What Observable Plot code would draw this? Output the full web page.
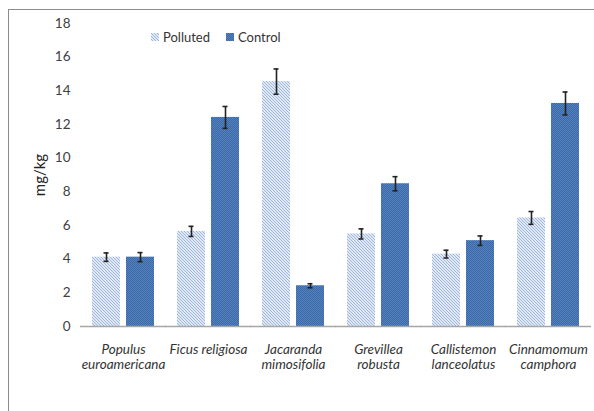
<!DOCTYPE html>
<html>
<head>
<meta charset="utf-8">
<script src="https://cdn.jsdelivr.net/npm/d3@7"></script>
<script src="https://cdn.jsdelivr.net/npm/@observablehq/plot@0.6"></script>
<style>
  body { margin: 0; background: #fff; }
  #wrap { position: relative; width: 594px; height: 411px; overflow: hidden; font-family: Lato, "Open Sans", sans-serif; }
  #frame { position: absolute; left: 8px; top: 9px; right: -10px; bottom: -10px; border-top: 1.5px solid #8c8c8c; border-left: 1.5px solid #8c8c8c; pointer-events: none; }
  #legend { position: absolute; left: 151px; top: 29px; display: flex; gap: 16px; font-size: 13px; color: #333; }
  #legend span { display: flex; align-items: center; gap: 4px; }
  #legend svg { width: 8px; height: 8px; }
</style>
</head>
<body>
<div id="wrap">
  <div id="chart"></div>
  <div id="frame"></div>
  <div id="legend"></div>
</div>
<script>
// Tree species and their axis labels
const species = ["Populus euroamericana", "Ficus religiosa", "Jacaranda mimosifolia", "Grevillea robusta", "Callistemon lanceolatus", "Cinnamomum camphora"];
const speciesLabels = ["Populus\neuroamericana", "Ficus religiosa", "Jacaranda\nmimosifolia", "Grevillea\nrobusta", "Callistemon\nlanceolatus", "Cinnamomum\ncamphora"];

// Concentrations (mg/kg) and their error margins
const series = ["Polluted", "Control"];
const polluted = [4.12, 5.65, 14.55, 5.5, 4.3, 6.45];
const pollutedErr = [0.25, 0.3, 0.75, 0.3, 0.23, 0.38];
const control = [4.12, 12.42, 2.42, 8.48, 5.1, 13.25];
const controlErr = [0.27, 0.65, 0.12, 0.42, 0.28, 0.68];
const yTicks = [0, 2, 4, 6, 8, 10, 12, 14, 16, 18];

const rows = species.flatMap((s, i) => [
  {species: s, series: "Polluted", value: polluted[i], err: pollutedErr[i]},
  {species: s, series: "Control", value: control[i], err: controlErr[i]}
]);

const fills = {Polluted: "url(#hatch-polluted)", Control: "url(#hatch-control)"};
const labelOf = new Map(species.map((s, i) => [s, speciesLabels[i]]));

const chart = Plot.plot({
  width: 594,
  height: 411,
  marginLeft: 79,
  marginRight: 2,
  marginTop: 23,
  marginBottom: 85,
  style: {fontFamily: "Lato, 'Open Sans', sans-serif", fontSize: "13px", color: "#404040", background: "transparent"},
  fx: {domain: species, paddingInner: 0.25, paddingOuter: 0.125, label: null, axis: null},
  x: {domain: series, paddingInner: 0.17, paddingOuter: 0, axis: null},
  y: {domain: [0, 18], ticks: yTicks, tickSize: 0, label: null},
  marks: [
    Plot.axisFx({
      anchor: "bottom", domain: species, tickSize: 0, tickPadding: 16, label: null,
      tickFormat: d => labelOf.get(d), fontStyle: "italic", fontSize: 13.5, lineHeight: 1.15, fill: "#333"
    }),
    Plot.axisY({
      ticks: yTicks, tickSize: 0, tickPadding: 12, dx: -9, fontSize: 13.5, fill: "#404040",
      label: "mg/kg", labelAnchor: "center", labelArrow: "none", labelOffset: 57
    }),
    Plot.barY(rows, {fx: "species", x: "series", y: "value", fill: d => fills[d.series]}),
    Plot.ruleY([0], {stroke: "#a6a6a6", strokeWidth: 1.5, insetLeft: -11, insetRight: -11}),
    Plot.ruleX(rows, {fx: "species", x: "series", y1: d => d.value - d.err, y2: d => d.value + d.err, stroke: "#222", strokeWidth: 1.6}),
    Plot.tickY(rows, {fx: "species", x: "series", y: d => d.value - d.err, stroke: "#222", strokeWidth: 1.6, insetLeft: 11.5, insetRight: 11.5}),
    Plot.tickY(rows, {fx: "species", x: "series", y: d => d.value + d.err, stroke: "#222", strokeWidth: 1.6, insetLeft: 11.5, insetRight: 11.5})
  ]
});

// Fill patterns for the two series
const defs = d3.select(chart).insert("defs", ":first-child");
const pPol = defs.append("pattern").attr("id", "hatch-polluted").attr("patternUnits", "userSpaceOnUse").attr("width", 3).attr("height", 3);
pPol.append("rect").attr("width", 3).attr("height", 3).attr("fill", "#dfe8f4");
pPol.append("path").attr("d", "M0,0 L3,3 M-1,2 L1,4 M2,-1 L4,1").attr("stroke", "#9fb8da").attr("stroke-width", 1);
const pCon = defs.append("pattern").attr("id", "hatch-control").attr("patternUnits", "userSpaceOnUse").attr("width", 2).attr("height", 2);
pCon.append("rect").attr("width", 2).attr("height", 2).attr("fill", "#5181bf");
pCon.append("rect").attr("width", 1).attr("height", 1).attr("fill", "#3e68a6");
pCon.append("rect").attr("x", 1).attr("y", 1).attr("width", 1).attr("height", 1).attr("fill", "#3e68a6");

// Axis title a touch larger and darker than the tick labels
d3.select(chart).selectAll("[aria-label='y-axis label'] text").attr("font-size", 15).attr("fill", "#222");

document.getElementById("chart").append(chart);

// Legend
const legend = d3.select("#legend");
for (const s of series) {
  const item = legend.append("span");
  item.append("svg").attr("viewBox", "0 0 8 8").append("rect").attr("width", 8).attr("height", 8).attr("fill", fills[s]);
  item.append("text").text(s);
}
</script>
</body>
</html>
